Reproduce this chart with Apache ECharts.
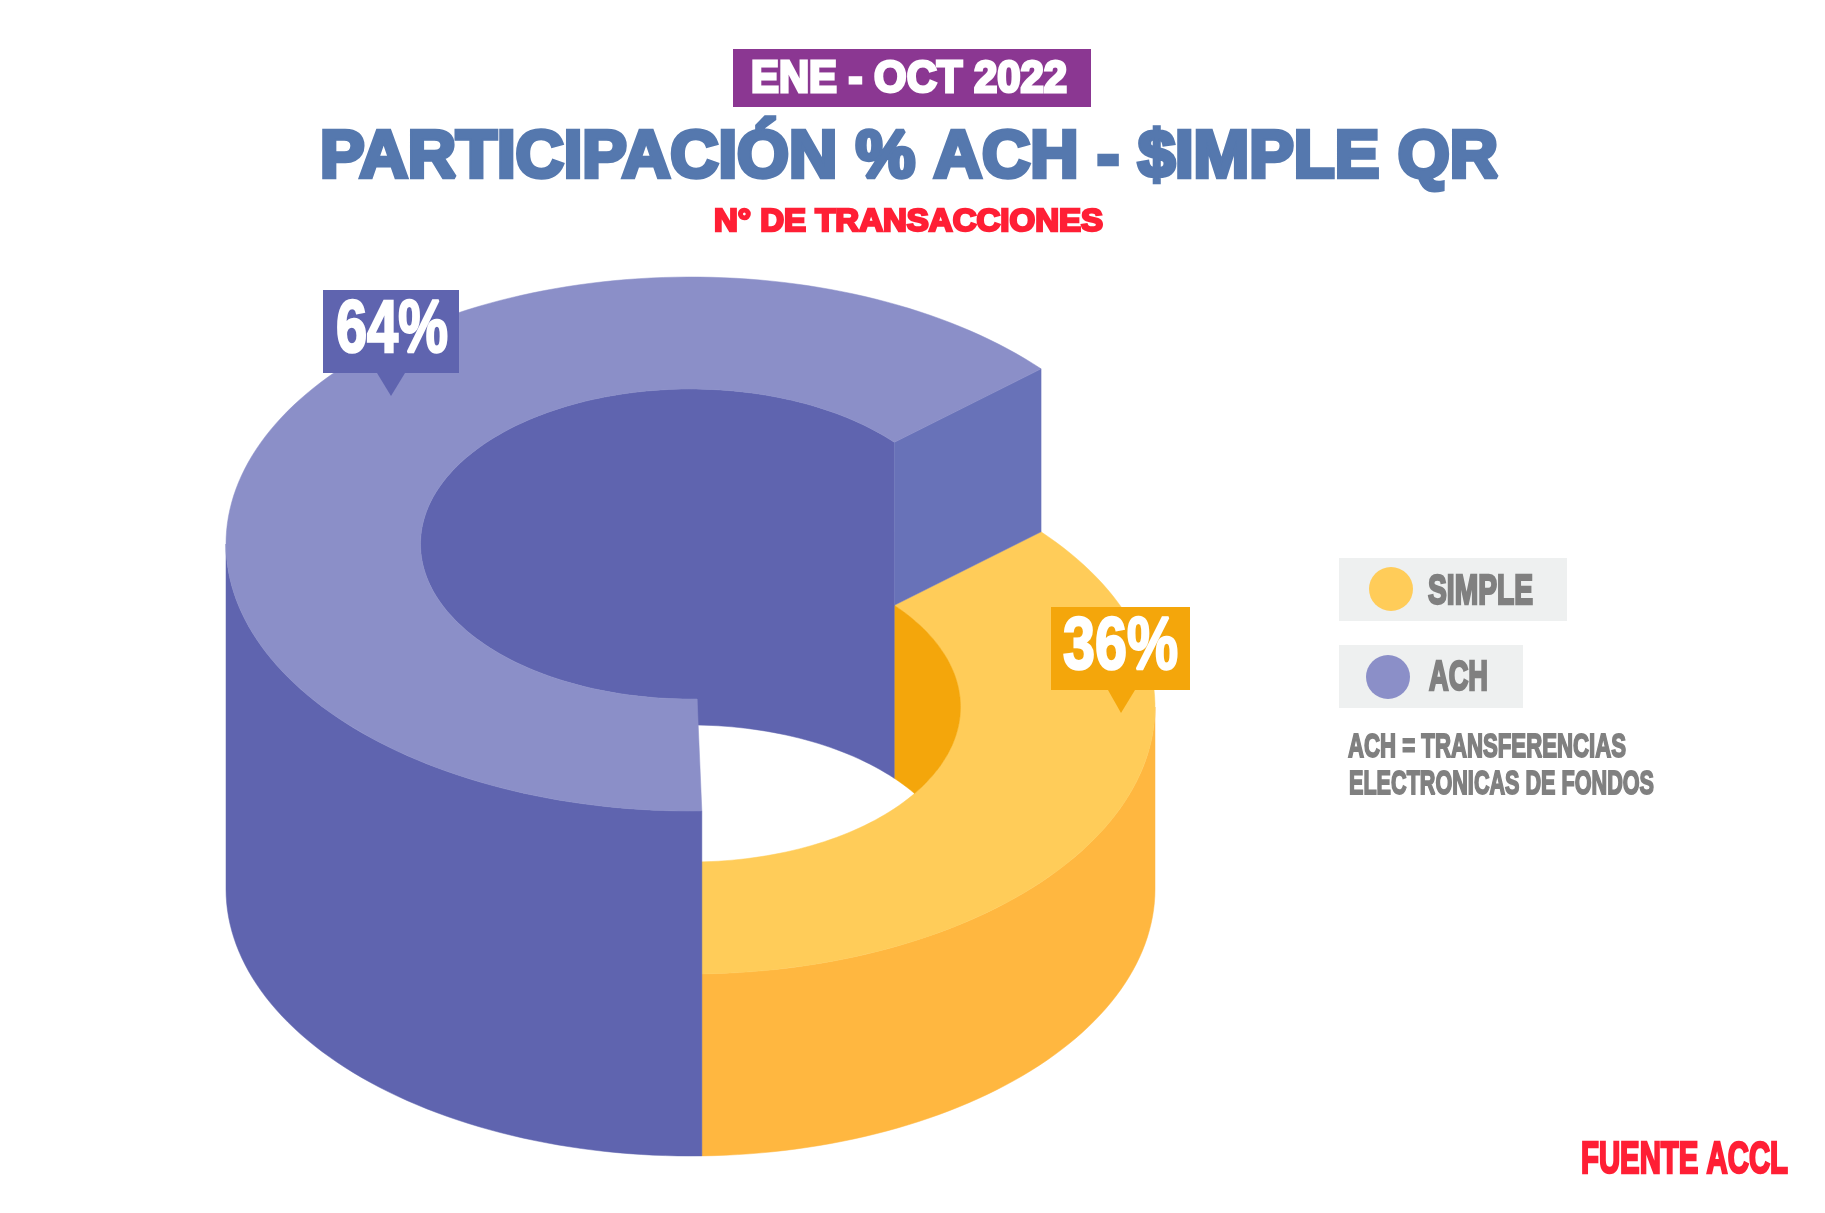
<!DOCTYPE html>
<html>
<head>
<meta charset="utf-8">
<style>html,body{margin:0;padding:0;background:#fff}#chart{width:1825px;height:1213px}</style>
<script src="https://cdn.jsdelivr.net/npm/echarts@6/dist/echarts.min.js"></script>
</head>
<body>
<div id="chart"></div>
<script>
// ---- data ----
const categories = ['SIMPLE', 'ACH'];
const shares = [36, 64];
const periodLabel = 'ENE - OCT 2022';
const titleLabel = 'PARTICIPACIÓN % ACH - $IMPLE QR';
const subtitleLabel = 'N° DE TRANSACCIONES';
const noteLines = ['ACH = TRANSFERENCIAS', 'ELECTRONICAS DE FONDOS'];
const sourceLabel = 'FUENTE ACCL';

// ---- drawing geometry ----
const G = {cx: 690.5, rx: 464.5, ry: 267, irx: 270, iry: 155, cyHigh: 544, cyLow: 707, cyBase: 889, cyHole: 880, start: 41};
const C = {
  simple: {top: '#FFCC59', wall: '#FFB740', inner: '#F4A60B'},
  ach: {top: '#8B8FC8', wall: '#5F64AF', face: '#6872B8', inner: '#5F64AF'}
};
const SANS = '"Liberation Sans"';
const measureCtx = document.createElement('canvas').getContext('2d');

function pt(a, rx, ry, cy) {
  const r = a * Math.PI / 180;
  return [G.cx + rx * Math.cos(r), cy - ry * Math.sin(r)];
}
function arc(a0, a1, rx, ry, cy) {
  const n = Math.max(2, Math.ceil(Math.abs(a1 - a0) / 1.5)), out = [];
  for (let i = 0; i <= n; i++) out.push(pt(a0 + (a1 - a0) * i / n, rx, ry, cy));
  return out;
}
function poly(points, fill) {
  return {type: 'polygon', shape: {points}, style: {fill, stroke: fill, lineWidth: 0.5}};
}
// real text stretched to a given width, centred vertically on y
function fitText(text, x, y, width, size, fill, stroke) {
  const font = `bold ${size}px ${SANS}`;
  measureCtx.font = font;
  const w = measureCtx.measureText(text).width;
  return {
    type: 'text', x, y, scaleX: width / w, z: 20,
    style: {text, font, fill, stroke: stroke ? fill : null, lineWidth: stroke || 0, lineJoin: 'round', align: 'left', verticalAlign: 'middle'}
  };
}
function callout(box, tip, base, fill, text, tx, tw, ty, size) {
  return [
    {type: 'rect', shape: {x: box[0], y: box[1], width: box[2] - box[0], height: box[3] - box[1]}, style: {fill}},
    {type: 'polygon', shape: {points: [[base[0], box[3]], [base[1], box[3]], tip]}, style: {fill}},
    fitText(text, tx, ty, tw, size, '#FFFFFF', 2.5)
  ];
}
function renderSimple(params, api) {
  const a1 = G.start, a0 = G.start - api.value(0) * 3.6;
  // where the yellow hole rim meets the far rim of the hole floor
  const meet = Math.asin((G.cyHole - G.cyLow) / (2 * G.iry)) * 180 / Math.PI;
  const kids = [
    poly(arc(0, a0, G.rx, G.ry, G.cyLow).concat(arc(a0, 0, G.rx, G.ry, G.cyBase)), C.simple.wall),
    poly(arc(a0, a1, G.rx, G.ry, G.cyLow).concat(arc(a1, a0, G.irx, G.iry, G.cyLow)), C.simple.top),
    poly(arc(a1, -meet, G.irx, G.iry, G.cyLow).concat(arc(meet, a1, G.irx, G.iry, G.cyHole)), C.simple.inner)
  ].concat(callout([1051, 607, 1190, 690], [1121, 713], [1108, 1135], C.simple.inner,
    api.value(0) + '%', 1063, 115, 649, 74));
  return {type: 'group', children: kids};
}
function renderAch(params, api) {
  const a0 = G.start, a1 = G.start + api.value(0) * 3.6;
  const kids = [
    poly(arc(a0, a1, G.irx, G.iry, G.cyHigh).concat(arc(360 - a1, a0, G.irx, G.iry, G.cyHole)), C.ach.inner),
    poly([pt(a0, G.irx, G.iry, G.cyHigh), pt(a0, G.rx, G.ry, G.cyHigh), pt(a0, G.rx, G.ry, G.cyLow), pt(a0, G.irx, G.iry, G.cyLow)], C.ach.face),
    poly(arc(180, a1, G.rx, G.ry, G.cyHigh).concat(arc(a1, 180, G.rx, G.ry, G.cyBase)), C.ach.wall),
    poly(arc(a0, a1, G.rx, G.ry, G.cyHigh).concat(arc(a1, a0, G.irx, G.iry, G.cyHigh)), C.ach.top)
  ].concat(callout([323, 290, 459, 373], [391, 396], [377, 405], C.ach.wall,
    api.value(0) + '%', 336, 112, 332, 74));
  return {type: 'group', children: kids};
}
function legendOf(name, top, left, pad) {
  return {
    show: true, data: [{name, icon: 'circle'}], orient: 'horizontal',
    left, top, itemWidth: 44, itemHeight: 44, itemGap: 0, padding: pad,
    backgroundColor: '#EEF0F0', selectedMode: false, formatter: () => '',
    textStyle: {fontSize: 1}
  };
}

const chart = echarts.init(document.getElementById('chart'), null, {renderer: 'canvas'});
chart.setOption({
  animation: false,
  backgroundColor: '#FFFFFF',
  legend: [
    legendOf(categories[0], 558, 1339, [9, 154, 10, 30]),
    legendOf(categories[1], 645, 1339, [10, 113, 9, 27])
  ],
  series: [
    {type: 'custom', name: categories[0], coordinateSystem: 'none', itemStyle: {color: C.simple.top},
      data: [[shares[0]]], renderItem: renderSimple, silent: true},
    {type: 'custom', name: categories[1], coordinateSystem: 'none', itemStyle: {color: C.ach.top},
      data: [[shares[1]]], renderItem: renderAch, silent: true}
  ],
  graphic: {z: 20, elements: [
    {type: 'rect', shape: {x: 733, y: 49, width: 358, height: 58}, style: {fill: '#8B3792'}},
    fitText(periodLabel, 751, 80, 316, 44, '#FFFFFF', 3),
    fitText(titleLabel, 320, 159, 1178, 67, '#5578AE', 4.5),
    fitText(subtitleLabel, 714, 222, 389, 32, '#FF1F35', 2.5),
    fitText(categories[0], 1428, 592, 105, 42, '#808080', 2.5),
    fitText(categories[1], 1429, 678, 59, 42, '#808080', 2.5),
    fitText(noteLines[0], 1348, 748, 278, 33, '#808080', 1.8),
    fitText(noteLines[1], 1349, 785, 305, 33, '#808080', 1.8),
    fitText(sourceLabel, 1581, 1161, 207, 44, '#FF1F35', 2.5)
  ]}
});
</script>
</body>
</html>
